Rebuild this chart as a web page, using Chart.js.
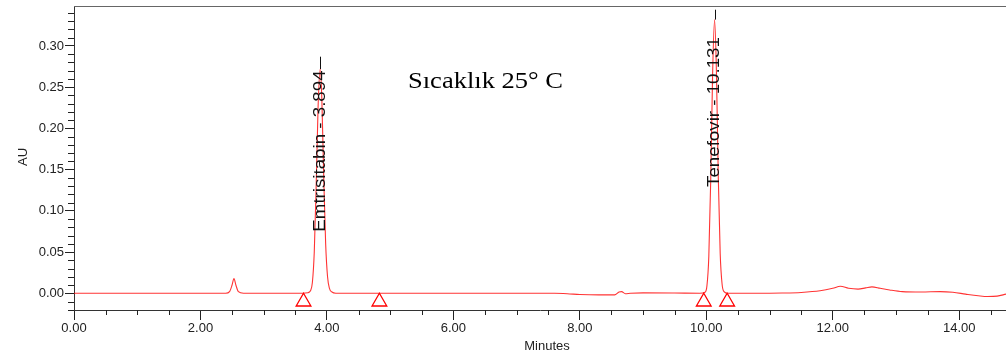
<!DOCTYPE html>
<html lang="tr">
<head>
  <meta charset="UTF-8">
  <title>Kromatogram - Sıcaklık 25° C</title>
  <style>
    body {
      margin: 0;
      padding: 0;
      background: #ffffff;
    }
    .chart-box {
      width: 1006px;
      height: 355px;
    }
  </style>
</head>
<body>
  <div class="chart-box">
    <canvas id="chromChart"></canvas>
  </div>

  <script src="https://cdn.jsdelivr.net/npm/chart.js"></script>
  <script>
    // retention time (min) and detector response (AU)
    const times = [
      0, 0.5, 1.0, 1.5, 2.0, 2.40, 2.46, 2.50, 2.53, 2.56,
      2.60, 2.68, 3.0, 3.5, 3.70, 3.74, 3.77, 3.80, 3.83, 3.86,
      3.894, 3.92, 3.95, 3.98, 4.01, 4.04, 4.08, 4.14, 5.0, 6.0,
      7.0, 7.6, 7.8, 8.0, 8.3, 8.55, 8.62, 8.66, 8.72, 8.8,
      9.0, 9.5, 9.9, 9.98, 10.01, 10.04, 10.07, 10.10, 10.131, 10.16,
      10.19, 10.22, 10.25, 10.28, 10.34, 10.8, 11.2, 11.5, 11.8, 12.0,
      12.12, 12.25, 12.4, 12.52, 12.62, 12.75, 12.9, 13.1, 13.4, 13.7,
      13.9, 14.1, 14.3, 14.45, 14.6, 14.74
    ];
    const absorbance = [
      0, 0, 0, 0, 0, 0, 0.002, 0.010, 0.018, 0.010,
      0.002, 0, 0, 0, 0.0007, 0.003, 0.013, 0.05, 0.13, 0.225,
      0.272, 0.235, 0.14, 0.06, 0.02, 0.006, 0.0015, 0, 0, 0,
      0, 0, -0.0005, -0.0015, -0.002, -0.002, 0.0015, 0.002, -0.0005, 0,
      0.0005, 0.0003, 0, 0.0013, 0.009, 0.045, 0.137, 0.266, 0.332, 0.27,
      0.14, 0.048, 0.011, 0.002, 0, 0, 0.0003, 0.001, 0.003, 0.006,
      0.0085, 0.006, 0.005, 0.0065, 0.0078, 0.006, 0.004, 0.002, 0.0015, 0.002,
      0.0012, -0.001, -0.003, -0.004, -0.0035, -0.001
    ];

    // integration start/end markers (triangles)
    const markTimes = [3.63, 4.83, 9.96, 10.33];
    const markLevel = [-0.0103, -0.0103, -0.0103, -0.0103];

    // peak labels
    const peakNames = ['Emtrisitabin', 'Tenefovir'];
    const peakTimes = [3.894, 10.131];
    const peakLineTops = [0.287, 0.344];
    const labelStarts = [0.0747, 0.129];

    const xTicks = [0, 2, 4, 6, 8, 10, 12, 14];
    const yTicks = [0, 0.05, 0.10, 0.15, 0.20, 0.25, 0.30];
    const note = 'Sıcaklık 25° C';

    const SANS = "'Liberation Sans', Arial, sans-serif";

    const extras = {
      id: 'extras',
      afterDraw(chart) {
        const { ctx, chartArea: a, scales: { x, y } } = chart;
        ctx.save();

        // top frame line
        ctx.strokeStyle = '#666';
        ctx.lineWidth = 1;
        ctx.beginPath();
        ctx.moveTo(a.left, a.top + 0.5);
        ctx.lineTo(a.right, a.top + 0.5);
        ctx.stroke();

        // minor ticks
        ctx.strokeStyle = '#222';
        ctx.beginPath();
        for (let k = -2; k <= 34; k++) {
          if (k % 5 === 0) continue;
          const py = Math.round(y.getPixelForValue(k / 100)) + 0.5;
          ctx.moveTo(a.left - 6, py);
          ctx.lineTo(a.left, py);
        }
        for (let k = 1; k <= 29; k++) {
          if (k % 4 === 0) continue;
          const px = Math.round(x.getPixelForValue(k / 2)) + 0.5;
          ctx.moveTo(px, a.bottom);
          ctx.lineTo(px, a.bottom + 5);
        }
        ctx.stroke();

        // peak marker lines + rotated labels
        peakNames.forEach((name, i) => {
          const px = x.getPixelForValue(peakTimes[i]);
          const idx = times.indexOf(peakTimes[i]);
          ctx.strokeStyle = '#111';
          ctx.lineWidth = 1;
          ctx.beginPath();
          ctx.moveTo(Math.round(px) + 0.5, y.getPixelForValue(peakLineTops[i]));
          ctx.lineTo(Math.round(px) + 0.5, y.getPixelForValue(absorbance[idx]));
          ctx.stroke();

          ctx.save();
          ctx.translate(px + 4.5, y.getPixelForValue(labelStarts[i]));
          ctx.rotate(-Math.PI / 2);
          ctx.scale(1.17, 1);
          ctx.fillStyle = '#111';
          ctx.font = '16px ' + SANS;
          ctx.textAlign = 'left';
          ctx.textBaseline = 'alphabetic';
          ctx.fillText(name + ' - ' + peakTimes[i].toFixed(3), 0, 0);
          ctx.restore();
        });

        // axis titles
        ctx.fillStyle = '#222';
        ctx.font = '13px ' + SANS;
        ctx.textAlign = 'center';
        ctx.textBaseline = 'middle';
        ctx.fillText('Minutes', 547, 346);
        ctx.save();
        ctx.translate(23, 157);
        ctx.rotate(-Math.PI / 2);
        ctx.fillText('AU', 0, 0);
        ctx.restore();

        // temperature note
        ctx.save();
        ctx.font = "24px 'Liberation Serif', 'Times New Roman', serif";
        const w = ctx.measureText(note).width;
        ctx.translate(408, 88);
        ctx.scale(155 / w, 1);
        ctx.fillStyle = '#000';
        ctx.textAlign = 'left';
        ctx.textBaseline = 'alphabetic';
        ctx.fillText(note, 0, 0);
        ctx.restore();

        ctx.restore();
      }
    };

    const ctx = document.getElementById('chromChart').getContext('2d');
    const chromChart = new Chart(ctx, {
      type: 'line',
      data: {
        datasets: [
          {
            label: 'Trace',
            data: times.map((t, i) => ({ x: t, y: absorbance[i] })),
            borderColor: 'rgba(255, 0, 0, 0.8)',
            borderWidth: 1.1,
            pointRadius: 0,
            fill: false,
            cubicInterpolationMode: 'monotone'
          },
          {
            label: 'Marks',
            data: markTimes.map((t, i) => ({ x: t, y: markLevel[i] })),
            showLine: false,
            pointStyle: 'triangle',
            pointRadius: 8.5,
            pointBorderWidth: 1.3,
            pointBorderColor: '#ff0000',
            pointBackgroundColor: 'rgba(0,0,0,0)'
          }
        ]
      },
      options: {
        responsive: true,
        maintainAspectRatio: false,
        animation: false,
        layout: { autoPadding: false, padding: { top: 6, right: 0, left: 0, bottom: 0 } },
        plugins: {
          legend: { display: false },
          tooltip: { enabled: false }
        },
        scales: {
          x: {
            type: 'linear',
            min: 0,
            max: 14.74,
            afterFit(scale) {
              scale.height = 45;
              scale.paddingLeft = 0;
              scale.paddingRight = 0;
            },
            afterBuildTicks(scale) { scale.ticks = xTicks.map(v => ({ value: v })); },
            border: { display: true, color: '#333', width: 1 },
            grid: { drawOnChartArea: false, drawTicks: true, tickLength: 10, color: '#222' },
            ticks: {
              maxRotation: 0,
              padding: 1,
              color: '#222',
              font: { family: SANS, size: 13 },
              callback: v => v.toFixed(2)
            }
          },
          y: {
            min: -0.0203,
            max: 0.3485,
            afterFit(scale) {
              scale.width = 74;
              scale.paddingTop = 0;
              scale.paddingBottom = 0;
            },
            afterBuildTicks(scale) { scale.ticks = yTicks.map(v => ({ value: v })); },
            border: { display: true, color: '#333', width: 1 },
            grid: { drawOnChartArea: false, drawTicks: true, tickLength: 9, color: '#222' },
            ticks: {
              padding: 1,
              color: '#222',
              font: { family: SANS, size: 13 },
              callback: v => v.toFixed(2)
            }
          }
        }
      },
      plugins: [extras]
    });
  </script>
</body>
</html>
